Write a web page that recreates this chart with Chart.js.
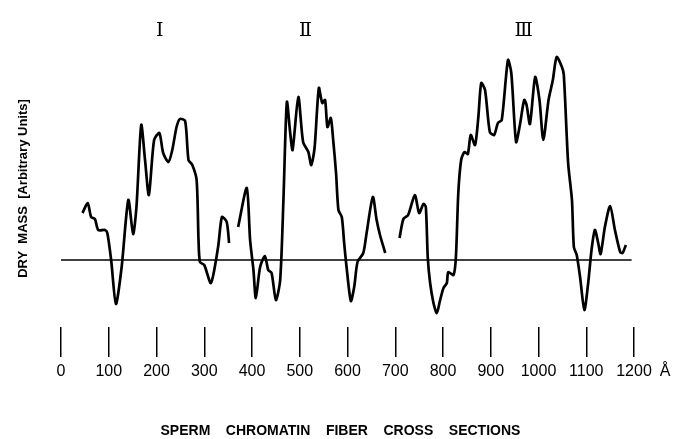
<!DOCTYPE html>
<html><head><meta charset="utf-8">
<script src="https://cdn.jsdelivr.net/npm/chart.js@4/dist/chart.umd.min.js"></script>
<style>html,body{margin:0;padding:0;background:#fff;}#wrap{width:677px;height:439px;}</style>
</head><body><div id="wrap"><canvas id="c" width="677" height="439"></canvas></div>
<script>
// Section I trace (x in Å, y dry mass, arbitrary units)
const seg1X=[45,56,63,71,78,92,97,105,115,127,141,151,158,168,176,184,195,206,214,225,233,242,249,260,267,275,284,288,291,300,314,329,337,347,352];
const seg1Y=[4.7,5.7,4.3,4.1,3.0,3.0,2.7,0,-4.4,-0.7,6.0,2.6,5.3,13.5,10.0,6.5,12.0,12.7,10.7,9.8,11.0,13.3,14.1,13.9,10.0,9.5,8.0,2.0,-0.2,-0.5,-2.3,1.3,4.3,3.8,1.7];
// Section II trace
const seg2X=[371,389,396,403,408,417,427,434,441,450,459,466,473,480,485,497,507,518,524,531,540,547,553,558,565,570,576,581,588,593,598,607,614,621,633,640,653,661,668,679];
const seg2Y=[3.3,7.2,2.0,-1.0,-3.8,-0.7,0.4,-1.0,-1.3,-4.0,-2.0,6.3,15.8,12.7,11.0,16.3,11.8,10.8,9.5,11.2,17.2,15.7,16.0,13.3,14.2,12.0,8.7,5.0,4.3,1.7,-0.7,-4.1,-2.7,-0.2,0.7,2.7,6.3,4.0,2.5,0.7];
// Section III trace
const seg3X=[709,717,727,741,750,759,764,768,773,780,787,794,801,808,811,822,827,832,838,845,852,858,867,874,880,888,898,907,915,923,936,943,953,961,970,975,982,993,1002,1010,1021,1030,1038,1049,1053,1062,1070,1074,1080,1087,1096,1104,1111,1118,1125,1130,1139,1150,1160,1171,1176,1183];
const seg3Y=[2.2,4.1,4.5,6.5,4.7,5.6,5.3,0.3,-2.3,-4.3,-5.3,-4.0,-2.8,-2.3,-1.2,-1.5,0.3,6.7,10.0,10.8,10.6,12.5,11.5,14.3,17.7,17.0,12.8,12.5,13.7,14.0,20.0,18.7,11.8,13.5,16.0,15.5,13.6,18.3,16.0,12.0,16.0,18.0,20.3,19.3,18.5,9.7,6.0,1.3,0.5,-1.7,-5.0,-2.3,1.0,3.0,1.7,0.6,3.3,5.4,3.0,0.8,0.7,1.5];
// zero baseline
const baseX=[0,1195];
const baseY=[0,0];
// axis labels
const xTickValues=[0,100,200,300,400,500,600,700,800,900,1000,1100,1200];
const xTickLabels=['0','100','200','300','400','500','600','700','800','900','1000','1100','1200'];
const unitLabel='Å';
const unitPos=1265;
const sectionPos=[207,512,969];
const sectionLabels=['Ⅰ','Ⅱ','Ⅲ'];

const pts=(xs,ys)=>xs.map((x,i)=>({x:x,y:ys[i]}));
const sans="'Liberation Sans',Arial,sans-serif";
const traceStyle={borderColor:'#000',borderWidth:2.7,pointRadius:0,tension:0.25,fill:false,xAxisID:'x',yAxisID:'y'};

new Chart(document.getElementById('c'),{
  type:'line',
  data:{datasets:[
    Object.assign({data:pts(baseX,baseY)},traceStyle,{borderWidth:1.4,tension:0}),
    Object.assign({data:pts(seg1X,seg1Y)},traceStyle),
    Object.assign({data:pts(seg2X,seg2Y)},traceStyle),
    Object.assign({data:pts(seg3X,seg3Y)},traceStyle)
  ]},
  options:{
    responsive:false,animation:false,devicePixelRatio:1,
    layout:{padding:{top:16,left:0,right:0,bottom:0}},
    plugins:{legend:{display:false},tooltip:{enabled:false}},
    scales:{
      x:{type:'linear',position:'bottom',min:-30,max:1290,
        afterBuildTicks:s=>{s.ticks=xTickValues.map(v=>({value:v})).concat([{value:unitPos}]);},
        afterFit:s=>{s.height=112;},
        ticks:{autoSkip:false,maxRotation:0,padding:5,color:'#000',font:{family:sans,size:16},
          callback:v=>v===unitPos?unitLabel:xTickLabels[xTickValues.indexOf(v)]},
        grid:{drawOnChartArea:false,drawTicks:true,tickLength:30,lineWidth:1.5,
          color:c=>(c.tick&&c.tick.value===unitPos)?'rgba(0,0,0,0)':'#000'},
        border:{display:false},
        title:{display:true,text:'SPERM    CHROMATIN    FIBER    CROSS    SECTIONS           ',color:'#000',
          font:{family:sans,size:14,weight:'bold',lineHeight:1},padding:{top:40,bottom:1}}
      },
      x2:{type:'linear',position:'top',display:true,min:-30,max:1290,
        afterBuildTicks:s=>{s.ticks=sectionPos.map(v=>({value:v}));},
        afterFit:s=>{s.height=34;},
        ticks:{autoSkip:false,maxRotation:0,padding:8,color:'#000',font:{family:"'DejaVu Serif','Liberation Serif',serif",size:19},
          callback:v=>sectionLabels[sectionPos.indexOf(v)]},
        grid:{display:false,drawTicks:false},
        border:{display:false}
      },
      y:{type:'linear',position:'left',min:-6.7,max:21,
        ticks:{display:false},
        grid:{display:false,drawTicks:false},
        border:{display:false},
        afterFit:s=>{s.width=46.675;},
        title:{display:true,text:'DRY  MASS  [Arbitrary Units]',color:'#000',
          font:{family:sans,size:13,weight:'bold',lineHeight:1.2},padding:{top:16,bottom:0}}
      }
    }
  }
});
</script></body></html>
